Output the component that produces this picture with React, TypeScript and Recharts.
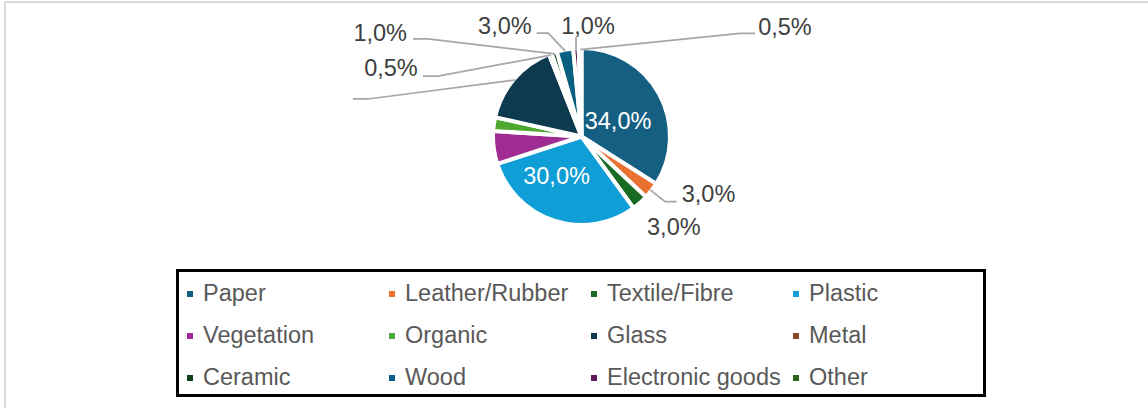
import { Legend, Pie, PieChart, Cell } from "recharts";

const categories = [
  "Paper",
  "Leather/Rubber",
  "Textile/Fibre",
  "Plastic",
  "Vegetation",
  "Organic",
  "Glass",
  "Metal",
  "Ceramic",
  "Wood",
  "Electronic goods",
  "Other",
];
const shares = [34, 3, 3, 30, 6, 2.5, 15.5, 0.5, 1, 3, 1, 0.5];
const colors = [
  "#156082",
  "#E97132",
  "#196B24",
  "#0F9ED5",
  "#A02B93",
  "#4EA72E",
  "#0D3A4E",
  "#8C441E",
  "#0F4016",
  "#095F80",
  "#601A58",
  "#2F641C",
];

const data = categories.map((name, i) => ({ name, value: shares[i] }));

const FONT = '"Liberation Sans", Arial, sans-serif';
const RADIAN = Math.PI / 180;

type Spot = {
  inside?: boolean;
  r?: number;
  tx: number;
  ty: number;
  anchor: "start" | "middle" | "end";
  line?: [number, number][];
  noText?: boolean;
};

// label placement, relative to the slice's anchor point (rim or inner radius)
const spots: Record<string, Spot> = {
  Paper: { inside: true, r: 40, tx: 1.5, ty: 11.3, anchor: "middle" },
  Plastic: { inside: true, r: 40, tx: -12.6, ty: 9, anchor: "middle" },
  "Leather/Rubber": { tx: 31.5, ty: 12.2, anchor: "start", line: [[14.8, 11.9], [26.5, 11.9]] },
  "Textile/Fibre": { tx: 8, ty: 33.2, anchor: "start" },
  Glass: { tx: 0, ty: 0, anchor: "end", line: [[-147.4, 19], [-162.4, 19]], noText: true },
  Metal: { tx: -133, ty: 21, anchor: "end", line: [[-112.8, 21], [-127.8, 21]] },
  Ceramic: { tx: -147.6, ty: -12.8, anchor: "end", line: [[-126.6, -14.8], [-141.6, -14.8]] },
  Wood: { tx: -33.5, ty: -16.6, anchor: "end", line: [[-16.9, -17.8], [-28.5, -17.8]] },
  "Electronic goods": { tx: 12, ty: -15.2, anchor: "middle", line: [[0, -12.7]] },
  Other: { tx: 178, ty: -15, anchor: "start", line: [[159.9, -16.2], [174.9, -16.2]] },
};

const fmt = (v: number) => v.toFixed(1).replace(".", ",") + "%";

const renderLabel = (props: any) => {
  const { cx, cy, midAngle, outerRadius, name, value } = props;
  const spot = spots[name];
  if (!spot) return null;
  const r = spot.inside ? spot.r! : outerRadius - 1.5;
  const ax = cx + Math.cos(-midAngle * RADIAN) * r;
  const ay = cy + Math.sin(-midAngle * RADIAN) * r;
  const pts = spot.line
    ? [[0, 0], ...spot.line].map(([x, y]) => `${ax + x},${ay + y}`).join(" ")
    : null;
  return (
    <g>
      {pts && <polyline points={pts} fill="none" stroke="#A6A6A6" strokeWidth={1.75} />}
      {!spot.noText && (
        <text
          x={ax + spot.tx}
          y={ay + spot.ty}
          textAnchor={spot.anchor}
          fontFamily={FONT}
          fontSize={23.5}
          fill={spot.inside ? "#FFFFFF" : "#404040"}
        >
          {fmt(value)}
        </text>
      )}
    </g>
  );
};

const renderLegend = () => (
  <div
    style={{
      boxSizing: "border-box",
      width: 810,
      height: 128,
      border: "3px solid #000",
      position: "relative",
      fontFamily: FONT,
      fontSize: 23.5,
      lineHeight: "28px",
      color: "#595959",
      background: "#fff",
    }}
  >
    {categories.map((name, i) => {
      const col = i % 4;
      const row = Math.floor(i / 4);
      return (
        <div key={name}>
          <div
            style={{
              position: "absolute",
              left: 8 + col * 202,
              top: 18.5 + row * 42,
              width: 6,
              height: 6,
              background: colors[i],
            }}
          />
          <div
            style={{
              position: "absolute",
              left: 24 + col * 202,
              top: 7 + row * 42,
              whiteSpace: "nowrap",
            }}
          >
            {name}
          </div>
        </div>
      );
    })}
  </div>
);

const App = () => {
  return (
    <div
      style={{
        position: "absolute",
        left: 0,
        top: 0,
        width: 1148,
        height: 408,
        overflow: "hidden",
        background: "#fff",
      }}
    >
      <div
        style={{
          position: "absolute",
          left: 4,
          top: 1,
          width: 1300,
          height: 600,
          border: "2px solid #D9D9D9",
        }}
      />
      <div style={{ position: "absolute", left: 0, top: 0 }}>
        <PieChart width={1148} height={408} margin={{ top: 0, right: 0, bottom: 0, left: 0 }}>
          <Pie
            data={data}
            dataKey="value"
            nameKey="name"
            cx={581.5}
            cy={136.5}
            outerRadius={88.5}
            startAngle={90}
            endAngle={-270}
            stroke="#FFFFFF"
            strokeWidth={4}
            label={renderLabel}
            labelLine={false}
            isAnimationActive={false}
          >
            {data.map((d, i) => (
              <Cell key={d.name} fill={colors[i]} />
            ))}
          </Pie>
          <Legend
            content={renderLegend}
            wrapperStyle={{ position: "absolute", left: 176, top: 269, width: 810, height: 128 }}
          />
        </PieChart>
      </div>
    </div>
  );
};

export default App;
